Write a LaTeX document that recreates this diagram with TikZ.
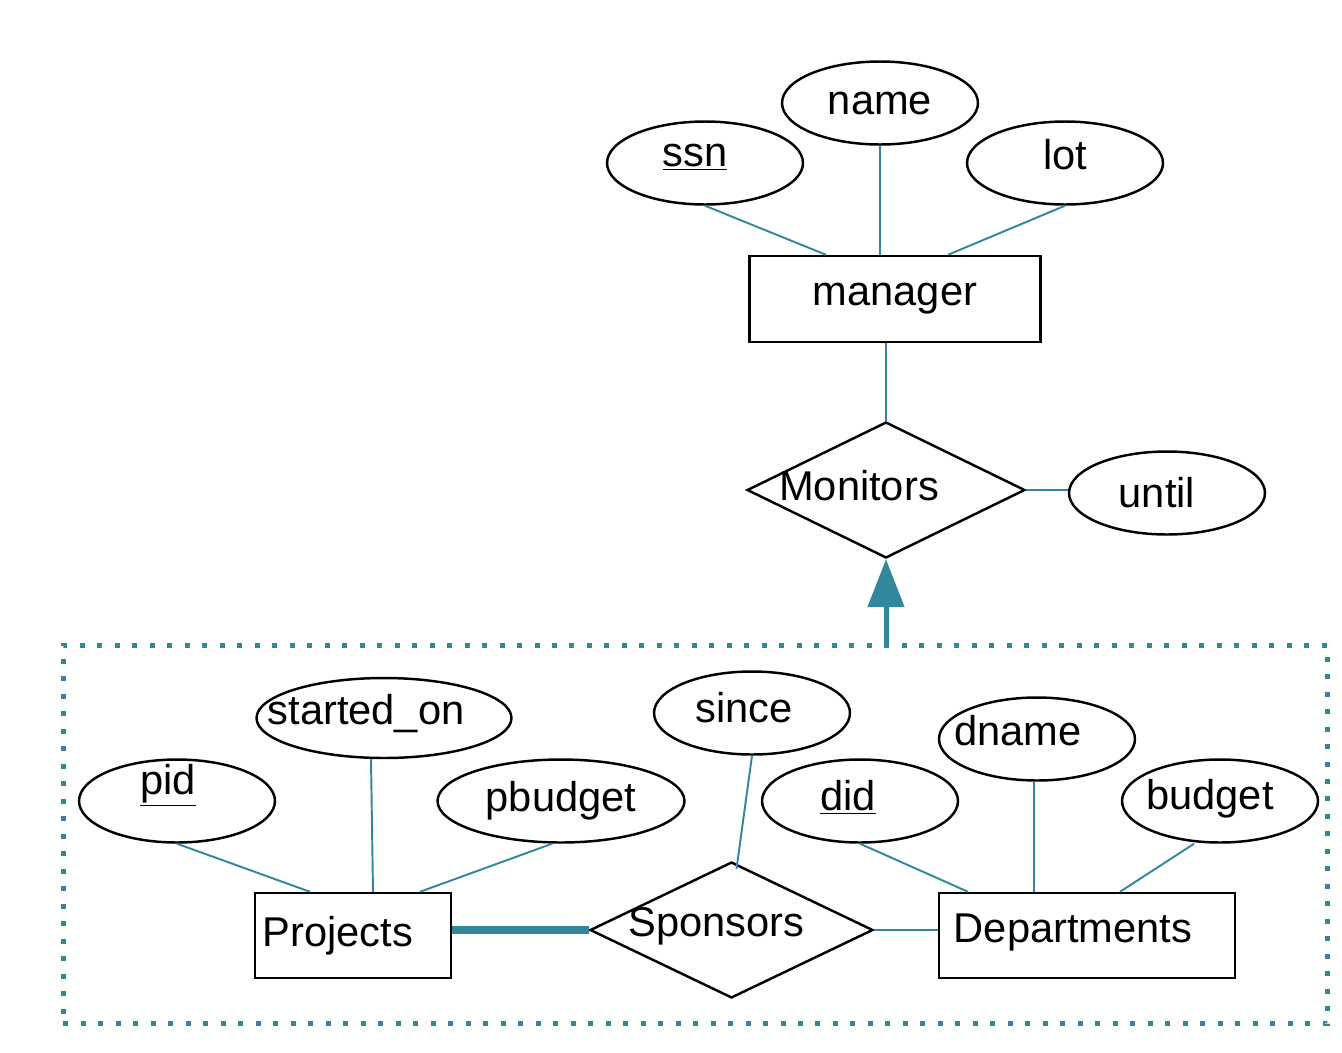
\documentclass[tikz,border=0pt]{standalone}
\usepackage{fontspec}
\setmainfont{Liberation Sans}
\usetikzlibrary{shapes.geometric,arrows.meta}
\definecolor{erblue}{RGB}{49,135,155}

\begin{document}
\begin{tikzpicture}[x=0.02cm, y=-0.02cm, font=\fontsize{23.7}{28}\selectfont,
  entity/.style = {draw, rectangle, line width=1.4pt, minimum height=1.7cm, inner sep=0pt},
  attrib/.style = {draw, ellipse, line width=1.4pt, minimum width=3.92cm, minimum height=1.66cm, inner sep=0pt},
  relation/.style = {draw, diamond, line width=1.4pt, minimum height=2.72cm, inner sep=0pt},
  link/.style = {draw=erblue, line width=1.1pt}]
\useasboundingbox (0,0) rectangle (1342,1052);

\node[attrib] (name) at (880,103) {name};
\node[attrib, label={[shift={(-10,-6)}]center:\underline{ssn}}] (ssn) at (705,163) {};
\node[attrib, label={[shift={(0,-8)}]center:lot}] (lot) at (1065,163) {};
\node[entity, minimum width=5.82cm, minimum height=1.72cm] (mgr) at (895,299) {manager};
\node[relation, minimum width=5.56cm, label={[shift={(-27,-4)}]center:Monitors}] (mon) at (886,490) {};
\node[attrib, label={[shift={(-10,0)}]center:until}] (until) at (1167,493) {};

\node[draw=erblue, line width=0.1cm, dash pattern=on 0.1cm off 0.25cm, minimum width=25.3cm, minimum height=7.58cm] (agg) at (695.5,834.5) {};

\node[attrib, minimum width=5.1cm, minimum height=1.6cm, label={[shift={(-18,-4)}]center:started\_on}] (started) at (384,718) {};
\node[attrib, label={[shift={(-9,-16)}]center:\underline{pid}}] (pid) at (177,801) {};
\node[attrib, minimum width=4.94cm] (pbudget) at (561,801) {pbudget};
\node[attrib, label={[shift={(-8,-5)}]center:since}] (since) at (752,713) {};
\node[attrib, label={[shift={(-12,-4)}]center:\underline{did}}] (did) at (860,801) {};
\node[attrib, label={[shift={(-19,-8)}]center:dname}] (dname) at (1037,739) {};
\node[attrib, label={[shift={(-10,-2)}]center:budget}] (budget) at (1220,801) {};
\node[entity, minimum width=3.92cm, label={[shift={(-15,0)}]center:Projects}] (proj) at (353,935.5) {};
\node[relation, minimum width=5.66cm, label={[shift={(-15,-4)}]center:Sponsors}] (spon) at (731.5,930) {};
\node[entity, minimum width=5.92cm, label={[shift={(-14,-3)}]center:Departments}] (dept) at (1087,935.5) {};

% manager side
\draw[link] (ssn.south) -- ([shift={(-69,0)}]mgr.north);
\draw[link] (name.south) -- (name.south |- mgr.north);
\draw[link] (lot.south) -- ([shift={(53,0)}]mgr.north);
\draw[link] (mon.north |- mgr.south) -- (mon.north);
\draw[link] (mon.east) -- (mon.east -| until.west);
\draw[erblue, line width=0.1cm, -{Triangle[width=0.72cm,length=0.96cm]}] (agg.north -| mon.south) -- (mon.south);

% aggregate
\draw[link] (pid.south) -- ([shift={(-43,0)}]proj.north);
\draw[link] ([shift={(-13,0)}]started.south) -- ([shift={(20,0)}]proj.north);
\draw[link] ([shift={(-9,0)}]pbudget.south) -- ([shift={(67,0)}]proj.north);
\draw[link] (since.south) -- ([shift={(5,8)}]spon.north);
\draw[link] (did.south) -- ([shift={(-119,0)}]dept.north);
\draw[link] ([shift={(-3,0)}]dname.south) -- ([shift={(-53,0)}]dept.north);
\draw[link] ([shift={(-26,0)}]budget.south) -- ([shift={(33,0)}]dept.north);
\draw[link, line width=4.2pt] (spon.west -| proj.east) -- (spon.west);
\draw[link] (spon.east) -- (spon.east -| dept.west);

\end{tikzpicture}
\end{document}
